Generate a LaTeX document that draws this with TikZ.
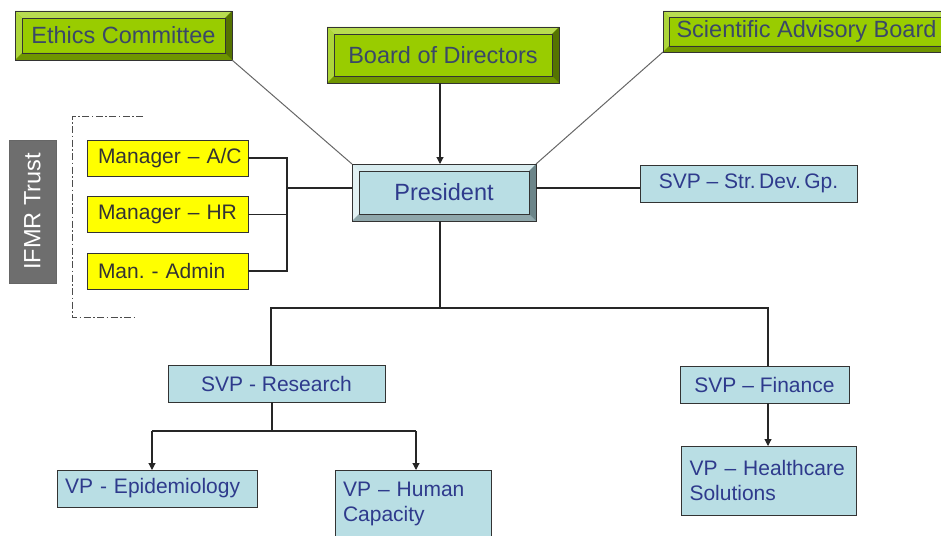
\documentclass[tikz,border=0pt]{standalone}
\usepackage{fontspec}
\setmainfont{Liberation Sans}
\frenchspacing
\usetikzlibrary{arrows.meta,calc}
\definecolor{grn}{HTML}{99CC00}
\definecolor{grnT}{HTML}{B8DC50}
\definecolor{grnL}{HTML}{ADD63A}
\definecolor{grnB}{HTML}{6F9500}
\definecolor{grnR}{HTML}{557300}
\definecolor{grntext}{HTML}{3A4868}
\definecolor{lb}{HTML}{B9DEE4}
\definecolor{lbT}{HTML}{D8ECEF}
\definecolor{lbL}{HTML}{E2F1F3}
\definecolor{lbB}{HTML}{8FA7AB}
\definecolor{lbR}{HTML}{6C8589}
\definecolor{bluetext}{HTML}{2E3A8C}
\definecolor{ylw}{HTML}{FFFF00}
\definecolor{trust}{HTML}{6E6E6E}
\newcommand{\bvl}[6]{%
  \fill[#3] (#1.north west) -- (#1.north east) -- ([shift={(-#2pt,-#2pt)}]#1.north east) -- ([shift={(#2pt,-#2pt)}]#1.north west) -- cycle;
  \fill[#4] (#1.north west) -- (#1.south west) -- ([shift={(#2pt,#2pt)}]#1.south west) -- ([shift={(#2pt,-#2pt)}]#1.north west) -- cycle;
  \fill[#5] (#1.south west) -- (#1.south east) -- ([shift={(-#2pt,#2pt)}]#1.south east) -- ([shift={(#2pt,#2pt)}]#1.south west) -- cycle;
  \fill[#6] (#1.north east) -- (#1.south east) -- ([shift={(-#2pt,#2pt)}]#1.south east) -- ([shift={(-#2pt,-#2pt)}]#1.north east) -- cycle;
  \draw[line width=0.9pt,black!80] ([shift={(#2pt,-#2pt)}]#1.north west) rectangle ([shift={(-#2pt,#2pt)}]#1.south east);
  \draw[line width=0.9pt,black!80] (#1.north west) rectangle (#1.south east);
}
\begin{document}
\begin{tikzpicture}[x=1pt,y=-1pt,
  greenbox/.style={rectangle,fill=grn,inner sep=0pt,outer sep=0pt,text=grntext,font=\fontsize{23.5}{26}\selectfont},
  presbox/.style={rectangle,fill=lb,inner sep=0pt,outer sep=0pt,text=bluetext,font=\fontsize{23.5}{26}\selectfont},
  bluebox/.style={rectangle,fill=lb,draw=black!80,line width=0.9pt,inner sep=0pt,outer sep=0pt,text=bluetext,font=\fontsize{21}{25}\selectfont},
  yelbox/.style={rectangle,fill=ylw,draw=black!80,line width=0.9pt,inner sep=0pt,outer sep=0pt,text=black!80,font=\fontsize{21}{25}\selectfont,minimum width=161pt,minimum height=36pt,text width=153pt,align=left,inner xsep=0pt},
  conn/.style={line width=1.1pt,black!85},
  gconn/.style={line width=1pt,black!60},
  arr/.style={conn,-{Triangle[width=7pt,length=7pt]}}]
\useasboundingbox (0,0) rectangle (941,535);

% green boxes
\node[greenbox,minimum width=217pt,minimum height=49pt] (eth) at (123.5,35.5) {Ethics Committee};
\bvl{eth}{7}{grnT}{grnL}{grnB}{grnR}
\node[greenbox,minimum width=232pt,minimum height=56pt] (bod) at (443,55) {Board of Directors};
\bvl{bod}{7}{grnT}{grnL}{grnB}{grnR}
\node[greenbox,minimum width=287pt,minimum height=41pt] (sab) at (806.5,31.5) {Scientific Advisory Board};
\bvl{sab}{6}{grnT}{grnL}{grnB}{grnR}

% president
\node[presbox,minimum width=184pt,minimum height=57pt] (pres) at (444,192.5) {President};
\bvl{pres}{7}{lbT}{lbL}{lbB}{lbR}

% SVP strategy
\node[bluebox,minimum width=217pt,minimum height=37pt] (svps) at (748.5,183.5) {SVP – Str.\,Dev.\,Gp.};

% IFMR trust
\node[rectangle,fill=trust,draw=black!60,line width=0.6pt,rotate=90,minimum width=143pt,minimum height=47pt,inner sep=0pt,text=white,font=\fontsize{23.5}{26}\selectfont] (ifmr) at (32.5,211.5) {IFMR Trust};
\draw[dash pattern=on 7pt off 2.5pt on 1.5pt off 2.5pt,line width=1pt,black!70] (143,116) -- (72,116) -- (72,317) -- (137,317);

% yellow boxes
\node[yelbox] (mac) at (167.5,158) {\hspace*{7pt}Manager – A/C};
\node[yelbox] (mhr) at (167.5,214.5) {\hspace*{7pt}Manager – HR};
\node[yelbox] (mad) at (167.5,271) {\hspace*{7pt}Man. - Admin};

% second level
\node[bluebox,minimum width=217pt,minimum height=37pt] (res) at (276.5,383.5) {SVP - Research};
\node[bluebox,minimum width=169pt,minimum height=37pt] (fin) at (764.5,384.5) {SVP – Finance};

% third level
\node[bluebox,minimum width=200pt,minimum height=37pt,text width=184pt,align=left] (epi) at (157,488.5) {VP - Epidemiology};
\node[bluebox,minimum width=156pt,minimum height=67pt,text width=140pt,align=left] (hum) at (413,503.5) {VP – Human\\Capacity};
\node[bluebox,minimum width=175pt,minimum height=69pt,text width=158pt,align=left] (hc) at (768.5,480.5) {VP – Healthcare\\Solutions};

% junction coordinates
\coordinate (jy) at (287,188);
\coordinate (jb) at (440,308);
\coordinate (jbl) at (271,308);
\coordinate (jbr) at (768,308);
\coordinate (jr) at (272,431);
\coordinate (jrl) at (152,431);
\coordinate (jrr) at (416,431);

% connectors top
\draw[arr] (bod.south -| jb) -- (pres.north -| jb);
\draw[gconn] (eth.south east) -- (pres.north west);
\draw[gconn] (sab.south west) -- (pres.north east);
\draw[conn] (pres.east |- jy) -- (svps.west |- jy);

% yellow connectors
\draw[conn] (mac.east) -| (jy);
\draw[conn] (mad.east) -| (jy);
\draw[conn] (mhr.east) -- (mhr.east -| jy);
\draw[conn] (jy) -- (pres.west |- jy);

% president down
\draw[conn] (pres.south -| jb) -- (jb);
\draw[conn] (res.north -| jbl) -- (jbl) -- (jbr) -- (fin.north -| jbr);

% research down
\draw[conn] (res.south -| jr) -- (jr);
\draw[conn] (jrl) -- (jrr);
\draw[arr] (jrl) -- (epi.north -| jrl);
\draw[arr] (jrr) -- (hum.north -| jrr);

% finance down
\draw[arr] (fin.south -| jbr) -- (hc.north -| jbr);
\end{tikzpicture}
\end{document}
